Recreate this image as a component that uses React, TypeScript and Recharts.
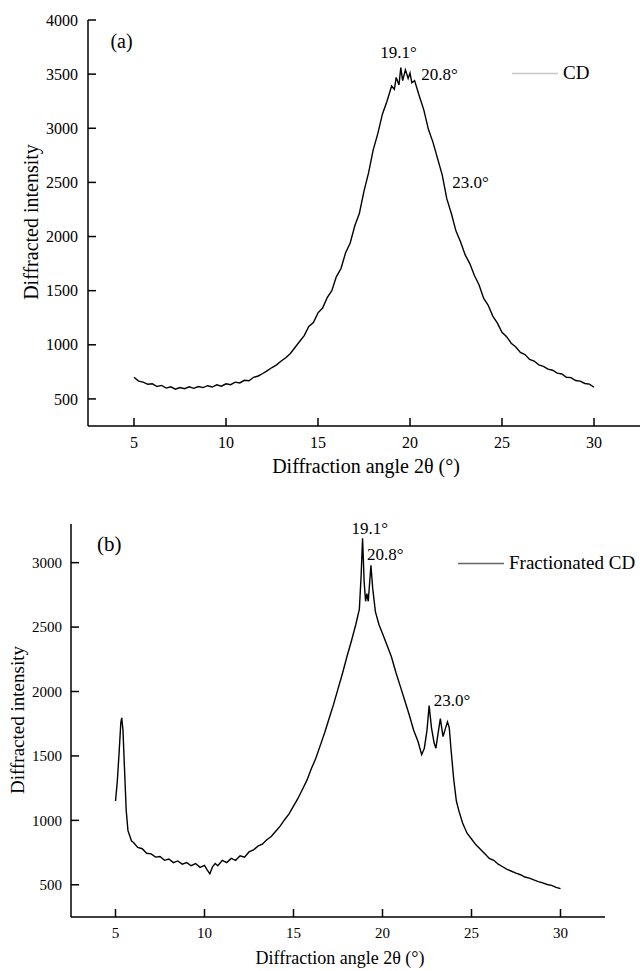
import {
    Legend,
    Line,
    LineChart,
    ReferenceDot,
    XAxis,
    YAxis,
} from "recharts";

const FONT = '"Liberation Serif", "Times New Roman", serif';

// (a) CD
const cdAngles = [
    5.0, 5.25, 5.5, 5.75, 6.0, 6.25, 6.5, 6.75, 7.0, 7.25, 7.5, 7.75, 8.0, 8.25, 8.5, 8.75,
    9.0, 9.25, 9.5, 9.75, 10.0, 10.25, 10.5, 10.75, 11.0, 11.25, 11.5, 11.75, 12.0, 12.25,
    12.5, 12.75, 13.0, 13.25, 13.5, 13.75, 14.0, 14.25, 14.5, 14.75, 15.0, 15.25, 15.5,
    15.75, 16.0, 16.25, 16.5, 16.75, 17.0, 17.25, 17.5, 17.75, 18.0, 18.25, 18.5, 18.75,
    19.0, 19.15, 19.25, 19.4, 19.5, 19.6, 19.75, 19.9, 20.0, 20.1, 20.25, 20.5, 20.75, 21.0,
    21.25, 21.5, 21.75, 22.0, 22.25, 22.5, 22.75, 23.0, 23.25, 23.5, 23.75, 24.0, 24.25,
    24.5, 24.75, 25.0, 25.25, 25.5, 25.75, 26.0, 26.25, 26.5, 26.75, 27.0, 27.25, 27.5,
    27.75, 28.0, 28.25, 28.5, 28.75, 29.0, 29.25, 29.5, 29.75, 30.0,
];
const cdIntensity = [
    700, 665, 655, 635, 640, 615, 625, 600, 612, 590, 605, 595, 612, 598, 615, 605,
    622, 610, 630, 618, 640, 632, 655, 648, 672, 668, 700, 712, 735, 762,
    790, 815, 850, 880, 920, 975, 1030, 1085, 1170, 1205, 1295, 1340, 1435,
    1500, 1630, 1705, 1850, 1940, 2100, 2215, 2420, 2590, 2800, 2950, 3130, 3250,
    3390, 3360, 3470, 3400, 3560, 3440, 3540, 3460, 3510, 3420, 3440, 3300, 3170, 2990,
    2870, 2720, 2570, 2350, 2210, 2050, 1950, 1830, 1750, 1640, 1555, 1430, 1365,
    1265, 1200, 1115, 1075, 1015, 980, 930, 910, 865, 850, 815, 800, 775,
    765, 738, 730, 700, 697, 670, 665, 643, 637, 608,
];

// (b) Fractionated CD
const fracAngles = [
    5.0, 5.1, 5.2, 5.3, 5.35, 5.42, 5.5, 5.6, 5.7, 5.8, 5.9, 6.0, 6.25, 6.5, 6.75, 7.0,
    7.25, 7.5, 7.75, 8.0, 8.25, 8.5, 8.75, 9.0, 9.25, 9.5, 9.75, 10.0, 10.15, 10.3, 10.45,
    10.6, 10.75, 11.0, 11.25, 11.5, 11.75, 12.0, 12.25, 12.5, 12.75, 13.0, 13.25, 13.5,
    13.75, 14.0, 14.25, 14.5, 14.75, 15.0, 15.25, 15.5, 15.75, 16.0, 16.25, 16.5, 16.75,
    17.0, 17.25, 17.5, 17.75, 18.0, 18.25, 18.5, 18.7, 18.8, 18.88, 18.97, 19.05, 19.12,
    19.2, 19.35, 19.45, 19.6, 19.8, 20.0, 20.25, 20.5, 20.75, 21.0, 21.25, 21.5, 21.75,
    22.0, 22.2, 22.35, 22.5, 22.62, 22.75, 22.9, 23.0, 23.15, 23.25, 23.4, 23.55, 23.65,
    23.75, 23.85, 24.0, 24.15, 24.3, 24.5, 24.75, 25.0, 25.25, 25.5, 25.75, 26.0, 26.25,
    26.5, 26.75, 27.0, 27.25, 27.5, 27.75, 28.0, 28.25, 28.5, 28.75, 29.0, 29.25, 29.5,
    29.75, 30.0,
];
const fracIntensity = [
    1150, 1300, 1520, 1760, 1795, 1700, 1420, 1080, 920, 880, 840, 830, 790, 780, 745, 740,
    715, 720, 690, 700, 672, 685, 660, 672, 648, 665, 635, 650, 615, 585, 640,
    665, 648, 690, 672, 705, 690, 725, 715, 755, 770, 800, 815, 850,
    875, 915, 955, 1005, 1050, 1110, 1170, 1240, 1310, 1400, 1480, 1580, 1680,
    1790, 1900, 2020, 2140, 2270, 2390, 2520, 2640, 2900, 3190, 2850, 2700, 2760,
    2700, 2980, 2800, 2620, 2520, 2450, 2360, 2270, 2150, 2040, 1930, 1820, 1700,
    1610, 1510, 1560, 1700, 1890, 1720, 1600, 1560, 1700, 1790, 1650, 1720, 1765,
    1720, 1550, 1320, 1150, 1070, 980, 900, 855, 810, 775, 740, 705, 690,
    660, 640, 620, 605, 590, 578, 560, 552, 538, 525, 515, 502, 495,
    480, 470,
];

const angleTicks = [5, 10, 15, 20, 25, 30];
const cdTicks = [500, 1000, 1500, 2000, 2500, 3000, 3500, 4000];
const fracTicks = [500, 1000, 1500, 2000, 2500, 3000];

const cdNotes = [
    { text: "(a)", angle: 4.32, value: 3806, size: 20 },
    { text: "19.1°", angle: 19.37, value: 3708, size: 17 },
    { text: "20.8°", angle: 21.6, value: 3500, size: 17 },
    { text: "23.0°", angle: 23.29, value: 2500, size: 17 },
];
const fracNotes = [
    { text: "(b)", angle: 4.65, value: 3148, size: 21 },
    { text: "19.1°", angle: 19.29, value: 3266, size: 17 },
    { text: "20.8°", angle: 20.16, value: 3070, size: 17 },
    { text: "23.0°", angle: 23.9, value: 1937, size: 17 },
];

const cdData = cdAngles.map((a, i) => ({ angle: a, intensity: cdIntensity[i] }));
const fracData = fracAngles.map((a, i) => ({ angle: a, intensity: fracIntensity[i] }));

const makeYTick = (gap, size) => (props) => {
    const { x, y, payload } = props;
    return (
        <g>
            <line x1={x + gap} x2={x + gap + 8} y1={y} y2={y} stroke="#000" strokeWidth={1.5} />
            <text x={x} y={y} dy="0.35em" textAnchor="end" fontSize={size} fontFamily={FONT} fill="#000">
                {payload.value}
            </text>
        </g>
    );
};

const makeXTick = (gap, size) => (props) => {
    const { x, y, payload } = props;
    return (
        <g>
            <line x1={x} x2={x} y1={y - gap} y2={y - gap - 8} stroke="#000" strokeWidth={1.5} />
            <text x={x} y={y} dy="0.71em" textAnchor="middle" fontSize={size} fontFamily={FONT} fill="#000">
                {payload.value}
            </text>
        </g>
    );
};

const LegendItem = ({ label, color }) => (
    <div style={{ display: "flex", alignItems: "center", fontFamily: FONT, fontSize: 19, color: "#000", whiteSpace: "nowrap" }}>
        <svg width={46} height={3}>
            <line x1={0} x2={46} y1={1.5} y2={1.5} stroke={color} strokeWidth={1.5} />
        </svg>
        <span style={{ marginLeft: 5 }}>{label}</span>
    </div>
);

const notes = (list) =>
    list.map((n) => (
        <ReferenceDot
            key={n.text}
            x={n.angle}
            y={n.value}
            r={0}
            fill="none"
            stroke="none"
            label={{ value: n.text, position: "center", fontSize: n.size, fontFamily: FONT, fill: "#000" }}
        />
    ));

const axisLine = { stroke: "#000", strokeWidth: 1.5 };

export default function App() {
    return (
        <div style={{ position: "absolute", left: 0, top: 0, width: 640, height: 971, background: "#fff" }}>
            <div style={{ position: "absolute", left: 0, top: 0 }}>
                <LineChart width={640} height={490} data={cdData} margin={{ top: 20, right: 0, bottom: 0, left: 0 }}>
                    <XAxis
                        type="number"
                        dataKey="angle"
                        domain={[2.5, 32.5]}
                        ticks={angleTicks}
                        height={64}
                        tickSize={0}
                        tickMargin={11}
                        tickLine={false}
                        axisLine={axisLine}
                        tick={makeXTick(11, 16)}
                        label={{
                            content: () => (
                                <text x={366} y={473} textAnchor="middle" fontSize={20} fontFamily={FONT} fill="#000">
                                    Diffraction angle 2θ (°)
                                </text>
                            ),
                        }}
                    />
                    <YAxis
                        type="number"
                        domain={[250, 4000]}
                        ticks={cdTicks}
                        width={88}
                        tickSize={0}
                        tickMargin={10}
                        tickLine={false}
                        axisLine={axisLine}
                        tick={makeYTick(10, 16)}
                        label={{
                            content: () => (
                                <text transform="translate(38,222) rotate(-90)" textAnchor="middle" fontSize={20} fontFamily={FONT} fill="#000">
                                    Diffracted intensity
                                </text>
                            ),
                        }}
                    />
                    <Legend
                        layout="horizontal"
                        verticalAlign="middle"
                        align="center"
                        wrapperStyle={{ top: 62, left: 512, width: "auto" }}
                        content={() => <LegendItem label="CD" color="#c8c8c8" />}
                    />
                    <Line
                        type="linear"
                        dataKey="intensity"
                        name="CD"
                        stroke="#000"
                        strokeWidth={1.4}
                        dot={false}
                        isAnimationActive={false}
                    />
                    {notes(cdNotes)}
                </LineChart>
            </div>
            <div style={{ position: "absolute", left: 0, top: 490 }}>
                <LineChart width={640} height={481} data={fracData} margin={{ top: 34, right: 35, bottom: 0, left: 0 }}>
                    <XAxis
                        type="number"
                        dataKey="angle"
                        domain={[2.5, 32.5]}
                        ticks={angleTicks}
                        height={54}
                        tickSize={0}
                        tickMargin={10}
                        tickLine={false}
                        axisLine={axisLine}
                        tick={makeXTick(10, 15)}
                        label={{
                            content: () => (
                                <text x={340} y={474} textAnchor="middle" fontSize={18} fontFamily={FONT} fill="#000">
                                    Diffraction angle 2θ (°)
                                </text>
                            ),
                        }}
                    />
                    <YAxis
                        type="number"
                        domain={[250, 3300]}
                        ticks={fracTicks}
                        width={71}
                        tickSize={0}
                        tickMargin={9}
                        tickLine={false}
                        axisLine={axisLine}
                        tick={makeYTick(9, 15)}
                        label={{
                            content: () => (
                                <text transform="translate(24,230) rotate(-90)" textAnchor="middle" fontSize={19} fontFamily={FONT} fill="#000">
                                    Diffracted intensity
                                </text>
                            ),
                        }}
                    />
                    <Legend
                        layout="horizontal"
                        verticalAlign="middle"
                        align="center"
                        wrapperStyle={{ top: 62, left: 458, width: "auto" }}
                        content={() => <LegendItem label="Fractionated CD" color="#666" />}
                    />
                    <Line
                        type="linear"
                        dataKey="intensity"
                        name="Fractionated CD"
                        stroke="#000"
                        strokeWidth={1.4}
                        dot={false}
                        isAnimationActive={false}
                    />
                    {notes(fracNotes)}
                </LineChart>
            </div>
        </div>
    );
}
